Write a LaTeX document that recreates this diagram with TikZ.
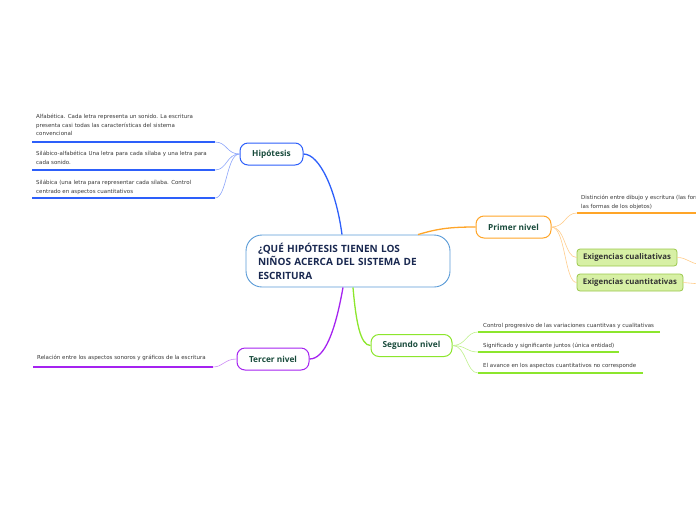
\documentclass[tikz,border=0pt]{standalone}
\usepackage{fontspec}
\setmainfont{Open Sans}
\newfontfamily\leaffont{DejaVu Sans}
\definecolor{hipblue}{RGB}{45,95,250}
\definecolor{hipleaf}{RGB}{140,165,250}
\definecolor{orng}{RGB}{255,165,40}
\definecolor{orngleaf}{RGB}{255,205,140}
\definecolor{lime}{RGB}{140,230,45}
\definecolor{limeleaf}{RGB}{190,240,140}
\definecolor{purp}{RGB}{165,35,240}
\definecolor{purpleaf}{RGB}{205,140,245}
\definecolor{centblue}{RGB}{90,155,215}
\definecolor{centtext}{RGB}{25,40,80}
\definecolor{nodetext}{RGB}{25,75,60}
\definecolor{leaftext}{RGB}{55,55,55}
\definecolor{exfill}{RGB}{215,240,165}
\definecolor{exdraw}{RGB}{155,200,75}
\tikzset{
  central/.style={draw=centblue, line width=0.9pt, rounded corners=16pt, fill=white,
    text width=180pt, inner xsep=12pt, minimum height=52pt, align=left,
    font=\bfseries\fontsize{10}{13.5}\selectfont, text=centtext},
  topic/.style={draw=#1, line width=1pt, rounded corners=8pt, fill=white,
    minimum height=22pt, inner sep=0pt,
    font=\bfseries\fontsize{8.3}{9}\selectfont, text=nodetext},
  exig/.style={draw=exdraw, line width=0.8pt, rounded corners=3pt, fill=exfill,
    minimum height=17pt, inner sep=0pt,
    font=\bfseries\fontsize{7.8}{9}\selectfont, text=black!80},
  leaf/.style={anchor=north west, inner sep=0pt, align=left,
    font=\leaffont\fontsize{5.5}{8.5}\selectfont, text=leaftext},
  mainconn/.style={draw=#1, line width=1.3pt},
  leafconn/.style={draw=#1, line width=0.6pt},
  leafline/.style={draw=#1, line width=1.8pt},
}
\begin{document}
\begin{tikzpicture}[x=1pt,y=-1pt]
\useasboundingbox (0,0) rectangle (696,520);
\clip (0,0) rectangle (696,520);

% central topic
\node[central] (c) at (348,261) {¿QUÉ HIPÓTESIS TIENEN LOS\\NIÑOS ACERCA DEL SISTEMA DE\\ESCRITURA};

% main topics
\node[topic=hipblue, minimum width=63pt] (hip) at (271.5,154) {Hipótesis};
\node[topic=orng, minimum width=75pt] (p1) at (513.5,227) {Primer nivel};
\node[topic=lime, minimum width=81pt] (p2) at (411.5,345.5) {Segundo nivel};
\node[topic=purp, minimum width=72pt] (p3) at (273,359) {Tercer nivel};

\node[exig, minimum width=100pt] (ex1) at (627,257.5) {Exigencias cualitativas};
\node[exig, minimum width=106pt] (ex2) at (630,282.5) {Exigencias cuantitativas};

% main connectors
\draw[mainconn=hipblue] (hip.east) .. controls +(16,0) and +(-6,-45) .. ([xshift=-6pt]c.north);
\draw[mainconn=orng] ([xshift=70pt]c.north) .. controls +(20,-6) and +(-25,0) .. (p1.west);
\draw[mainconn=lime] ([xshift=5pt]c.south) .. controls +(3,35) and +(-10,0) .. (p2.west);
\draw[mainconn=purp] ([xshift=-5pt]c.south) .. controls +(-8,45) and +(15,0) .. (p3.east);

% Hipótesis leaves
\coordinate (h1l) at (32,142); \coordinate (h1r) at (215,142);
\coordinate (h2l) at (32,170); \coordinate (h2r) at (215,170);
\coordinate (h3l) at (32,198); \coordinate (h3r) at (215,198);
\draw[leafline=hipblue] (h1l) -- (h1r);
\draw[leafline=hipblue] (h2l) -- (h2r);
\draw[leafline=hipblue] (h3l) -- (h3r);
\draw[leafconn=hipleaf] (hip.west) .. controls +(-13,0) and +(12,0) .. (h1r);
\draw[leafconn=hipleaf] (hip.west) .. controls +(-13,0) and +(12,0) .. (h2r);
\draw[leafconn=hipleaf] (hip.west) .. controls +(-13,0) and +(12,0) .. (h3r);
\node[leaf] (t1) at (36,114) {Alfabética. Cada letra representa un sonido. La escritura\\presenta casi todas las características del sistema\\convencional};
\node[leaf] (t2) at (36,151) {Silábico-alfabética Una letra para cada sílaba y una letra para\\cada sonido.};
\node[leaf] (t3) at (36,180) {Silábica (una letra para representar cada sílaba. Control\\centrado en aspectos cuantitativos};

% Primer nivel leaves
\coordinate (p1l) at (577,213); \coordinate (p1r) at (700,213);
\draw[leafline=orng] (p1l) -- (p1r);
\draw[leafconn=orngleaf] (p1.east) .. controls +(14,0) and +(-12,0) .. (p1l);
\draw[leafconn=orngleaf] (p1.east) .. controls +(14,0) and +(-12,0) .. (ex1.west);
\draw[leafconn=orngleaf] (p1.east) .. controls +(14,0) and +(-12,0) .. (ex2.west);
\node[leaf] (t4) at (581,195) {Distinción entre dibujo y escritura (las formas\\las formas de los objetos)};
\coordinate (e1o) at (700,264);
\coordinate (e2o) at (700,284);
\draw[leafconn=orngleaf] (ex1.east) .. controls +(10,0) and +(-10,0) .. (e1o);
\draw[leafconn=orngleaf] (ex2.east) .. controls +(8,0) and +(-8,0) .. (e2o);

% Segundo nivel leaves
\coordinate (s1l) at (478,332); \coordinate (s1r) at (660,332);
\coordinate (s2l) at (478,352); \coordinate (s2r) at (619,352);
\coordinate (s3l) at (478,373); \coordinate (s3r) at (643,373);
\draw[leafline=lime, line width=1.4pt] (s1l) -- (s1r);
\draw[leafline=lime, line width=1.4pt] (s2l) -- (s2r);
\draw[leafline=lime, line width=1.4pt] (s3l) -- (s3r);
\draw[leafconn=limeleaf] (p2.east) .. controls +(14,0) and +(-12,0) .. (s1l);
\draw[leafconn=limeleaf] (p2.east) .. controls +(14,0) and +(-12,0) .. (s2l);
\draw[leafconn=limeleaf] (p2.east) .. controls +(14,0) and +(-12,0) .. (s3l);
\node[leaf] (t5) at (483,323) {Control progresivo de las variaciones cuantitvas y cualitativas};
\node[leaf] (t6) at (483,343) {Significado y significante juntos (única entidad)};
\node[leaf] (t7) at (483,363) {El avance  en los aspectos cuantitativos no corresponde};

% Tercer nivel leaf
\coordinate (r1l) at (33,367); \coordinate (r1r) at (213,367);
\draw[leafline=purp] (r1l) -- (r1r);
\draw[leafconn=purpleaf] (p3.west) .. controls +(-12,0) and +(10,0) .. (r1r);
\node[leaf] (t8) at (37,355) {Relación entre los aspectos sonoros y gráficos de la escritura};
\end{tikzpicture}
\end{document}
